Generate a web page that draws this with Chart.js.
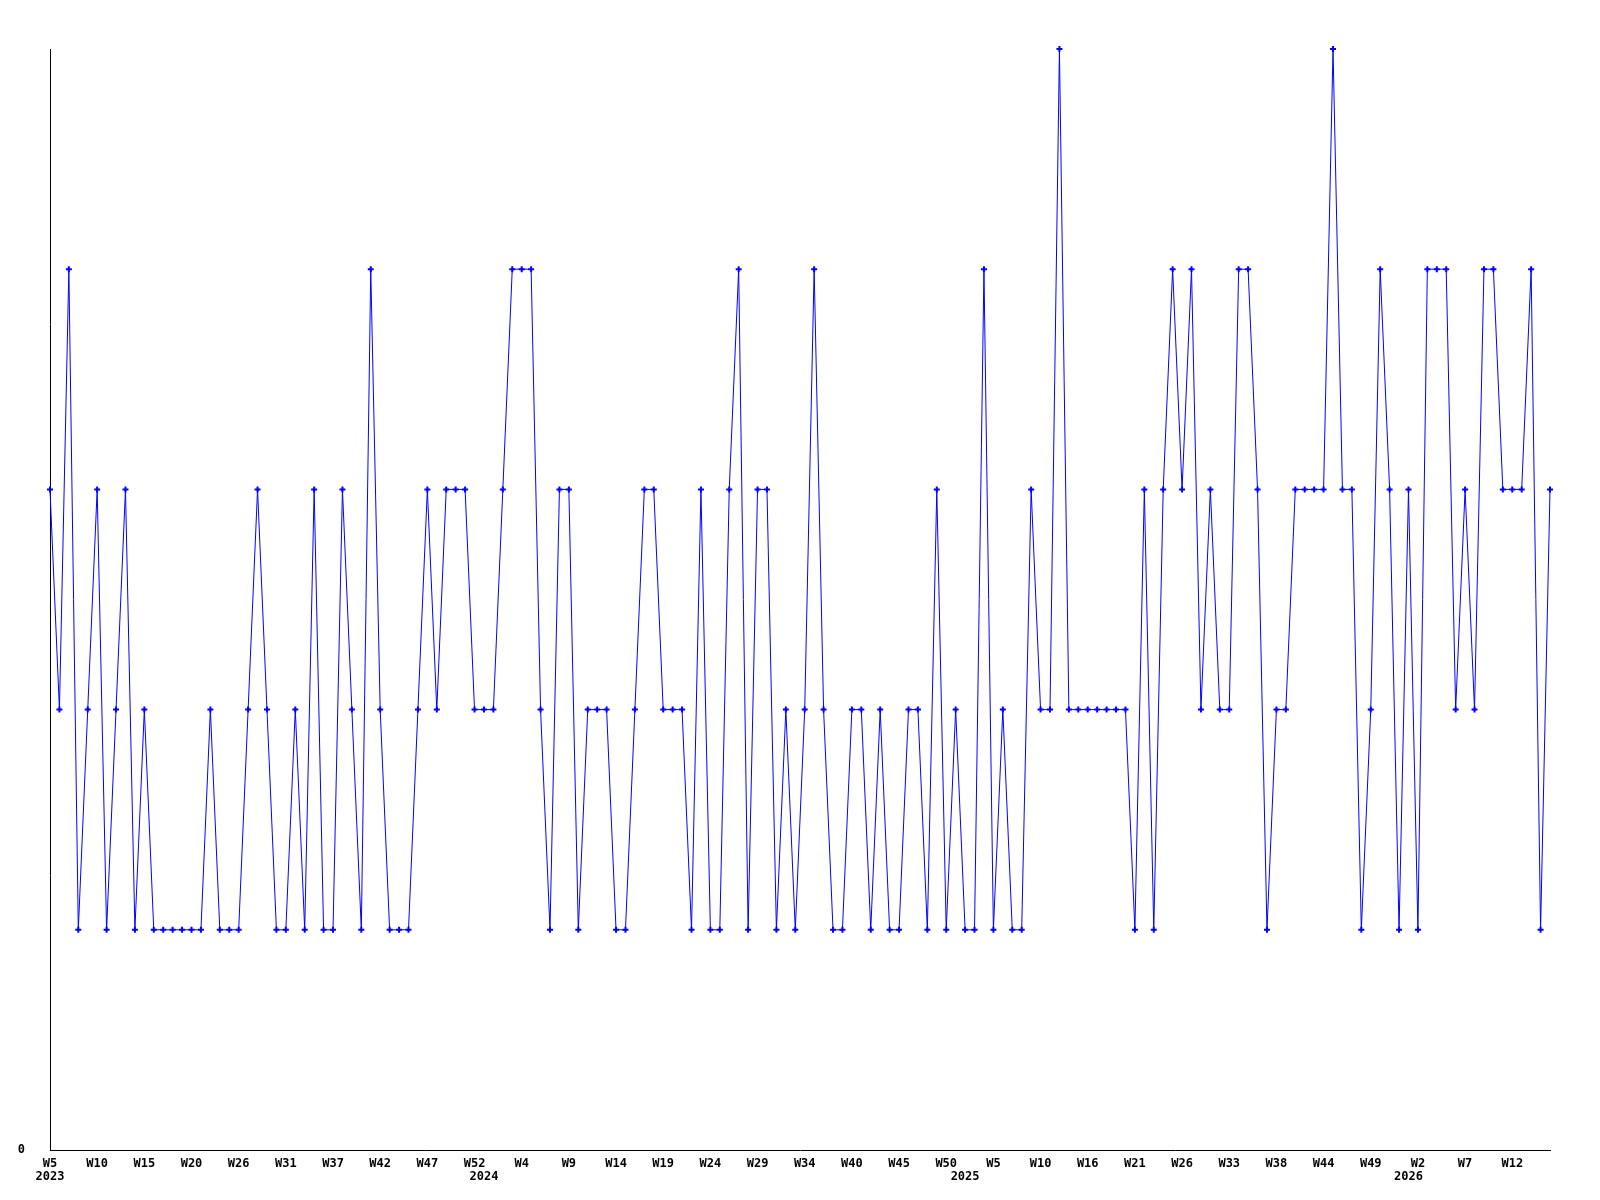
<!DOCTYPE html>
<html>
<head>
<meta charset="utf-8">
<script src="https://cdn.jsdelivr.net/npm/chart.js@4"></script>
<style>
  body { margin: 0; background: #fff; }
  canvas { display: block; }
</style>
</head>
<body>
<canvas id="weekChart" width="1600" height="1200"></canvas>
<script>
// one label per data point (week number)
const weeks = [
  "W5", "W6", "W7", "W8", "W9", "W10", "W11", "W12", "W13", "W14",
  "W15", "W16", "W17", "W18", "W19", "W20", "W21", "W22", "W23", "W24",
  "W26", "W27", "W28", "W29", "W30", "W31", "W32", "W33", "W34", "W35",
  "W37", "W38", "W39", "W40", "W41", "W42", "W43", "W44", "W45", "W46",
  "W47", "W48", "W49", "W50", "W51", "W52", "W1", "W2", "W2", "W3",
  "W4", "W5", "W6", "W7", "W8", "W9", "W10", "W11", "W12", "W13",
  "W14", "W15", "W16", "W17", "W18", "W19", "W20", "W21", "W22", "W23",
  "W24", "W25", "W26", "W27", "W28", "W29", "W30", "W31", "W32", "W33",
  "W34", "W35", "W36", "W37", "W38", "W40", "W41", "W42", "W43", "W44",
  "W45", "W46", "W47", "W48", "W49", "W50", "W52", "W1", "W2", "W4",
  "W5", "W6", "W7", "W8", "W9", "W10", "W11", "W12", "W13", "W14",
  "W16", "W17", "W18", "W19", "W20", "W21", "W22", "W23", "W24", "W25",
  "W26", "W27", "W28", "W30", "W31", "W33", "W34", "W35", "W36", "W37",
  "W38", "W39", "W40", "W41", "W42", "W44", "W45", "W46", "W47", "W48",
  "W49", "W50", "W51", "W52", "W1", "W2", "W3", "W4", "W5", "W6",
  "W7", "W8", "W9", "W10", "W11", "W12", "W13", "W14", "W15", "W16"
];

// point index where each year starts
const yearStarts = [0, 46, 97, 144];
const years = ["2023", "2024", "2025", "2026"];

const counts = [
  3, 2, 4, 1, 2, 3, 1, 2, 3, 1, 2, 1, 1, 1, 1, 1, 1, 2, 1, 1,
  1, 2, 3, 2, 1, 1, 2, 1, 3, 1, 1, 3, 2, 1, 4, 2, 1, 1, 1, 2,
  3, 2, 3, 3, 3, 2, 2, 2, 3, 4, 4, 4, 2, 1, 3, 3, 1, 2, 2, 2,
  1, 1, 2, 3, 3, 2, 2, 2, 1, 3, 1, 1, 3, 4, 1, 3, 3, 1, 2, 1,
  2, 4, 2, 1, 1, 2, 2, 1, 2, 1, 1, 2, 2, 1, 3, 1, 2, 1, 1, 4,
  1, 2, 1, 1, 3, 2, 2, 5, 2, 2, 2, 2, 2, 2, 2, 1, 3, 1, 3, 4,
  3, 4, 2, 3, 2, 2, 4, 4, 3, 1, 2, 2, 3, 3, 3, 3, 5, 3, 3, 1,
  2, 4, 3, 1, 3, 1, 4, 4, 4, 2, 3, 2, 4, 4, 3, 3, 3, 4, 1, 3
];

const labelFont = { family: "DejaVu Sans Mono", size: 12, weight: "bold", lineHeight: 1.1 };

function weekTick(value, index) {
  const y = yearStarts.indexOf(index);
  const week = index % 5 === 0 ? weeks[index] : "";
  if (y >= 0) return [week, years[y]];
  return week;
}

const ctx = document.getElementById("weekChart").getContext("2d");

new Chart(ctx, {
  type: "line",
  data: {
    labels: weeks,
    datasets: [
      {
        data: counts,
        borderColor: "#0000ff",
        backgroundColor: "#0000ff",
        borderWidth: 1,
        tension: 0,
        pointStyle: "cross",
        pointRadius: 3,
        pointBorderWidth: 2,
        pointBorderColor: "#0000ff",
        clip: false,
      },
    ],
  },
  options: {
    responsive: false,
    animation: false,
    layout: { padding: { top: 49, right: 50, bottom: 0, left: 0 } },
    plugins: {
      legend: { display: false },
      tooltip: { enabled: false },
    },
    scales: {
      x: {
        type: "category",
        offset: false,
        grid: { display: false, drawTicks: false },
        border: { display: true, color: "#000", width: 1 },
        afterFit: (scale) => { scale.height = 50; },
        ticks: {
          autoSkip: false,
          maxRotation: 0,
          minRotation: 0,
          padding: 7,
          color: "#000",
          font: labelFont,
          callback: weekTick,
        },
      },
      y: {
        min: 0,
        max: 5,
        grid: { display: false, drawTicks: false },
        border: { display: true, color: "#000", width: 1 },
        afterFit: (scale) => { scale.width = 50; },
        ticks: {
          stepSize: 1,
          padding: 25,
          color: "#000",
          font: labelFont,
          callback: (value) => (value === 0 ? "0" : ""),
        },
      },
    },
  },
});
</script>
</body>
</html>
